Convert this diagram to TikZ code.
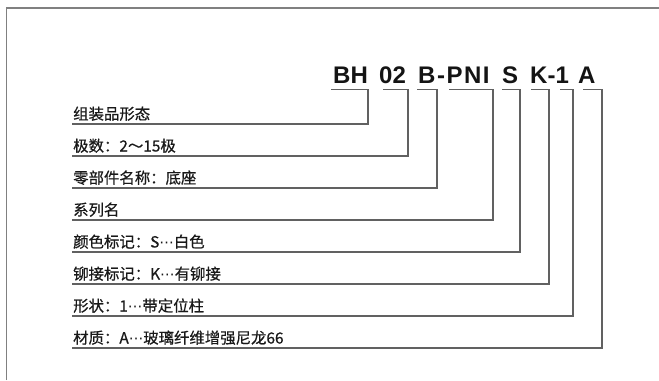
\documentclass[tikz,border=0pt]{standalone}
\usepackage{fontspec}
\newfontfamily\cjkfont[FakeBold=0.6]{Noto Sans CJK SC}
\newfontfamily\codefont{Liberation Sans}
\newcommand{\mdots}{{\fontspec{DejaVu Sans}\fontsize{14.5bp}{16bp}\selectfont ⋯}}
\begin{document}
\begin{tikzpicture}[x=1bp,y=-1bp,
  lbl/.style={anchor=base west,inner sep=0pt,font=\cjkfont\fontsize{15.4bp}{16bp}\selectfont,text=black!90},
  code/.style={anchor=base west,inner sep=0pt,font=\codefont\bfseries\fontsize{24bp}{26bp}\selectfont,text=black!92},
  lead/.style={draw=black!62,line width=1.1bp},
  frame/.style={draw=black!50,line width=1.2bp}]
\useasboundingbox (0,0) rectangle (659,380);
% frame
\draw[frame] (6.5,380) -- (6.5,8) -- (659,8);
% code segments
\node[code] (cBH) at (333,83) {BH};
\node[code] (c02) at (379,83) {02};
\node[code] (cB) at (418,83) {B};
\node[code] (cPNI) at (437,83) {\addfontfeature{LetterSpace=6}-PNI};
\node[code] (cS) at (502,83) {S};
\node[code] (cK) at (530,83) {K-1};
\node[code] (cA) at (578,83) {A};
% labels
\node[lbl] (l1) at (73,119.5) {组装品形态};
\node[lbl] (l2) at (73,151.5) {极数：2～15极};
\node[lbl] (l3) at (73,183.5) {零部件名称：底座};
\node[lbl] (l4) at (73,215.5) {系列名};
\node[lbl] (l5) at (73,247.5) {颜色标记：S\mdots 白色};
\node[lbl] (l6) at (73,279.5) {铆接标记：K\mdots 有铆接};
\node[lbl] (l7) at (73,311.5) {形状：1\mdots 带定位柱};
\node[lbl] (l8) at (73,343.5) {材质：A\mdots 玻璃纤维增强尼龙66};
% bracket coordinates: start of top stroke, corner, end at label line
\foreach \i/\xs/\xv/\yl in {1/331/368/124, 2/383/408/156, 3/417/437/188, 4/449/493/220,
                          5/502/520/252, 6/531/549/284, 7/560/573/316, 8/583/602/348}{
  \coordinate (t\i) at (\xs,89.5);
  \coordinate (k\i) at (\xv,\yl);
  \coordinate (e\i) at (72,\yl);
  \draw[lead] (t\i) -| (k\i) -- (e\i);
}
\end{tikzpicture}
\end{document}
